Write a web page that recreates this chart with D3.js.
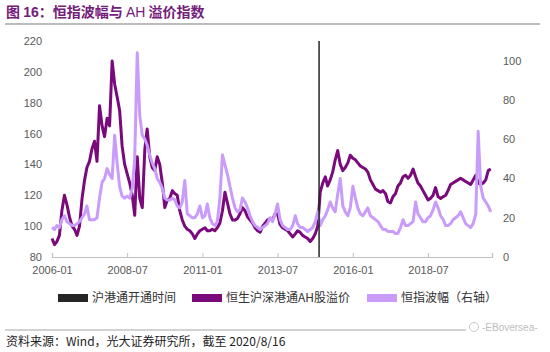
<!DOCTYPE html>
<html>
<head>
<meta charset="utf-8">
<script src="https://cdn.jsdelivr.net/npm/d3@7"></script>
<style>
  body { margin: 0; background: #fff; }
  svg { display: block; font-family: "Liberation Sans", Arial, "Noto Sans CJK SC", sans-serif; }
  .legend-text { font-size: 12px; fill: #333; font-family: "Noto Sans CJK SC", sans-serif; }
</style>
</head>
<body>
<script>
// Monthly values, 2006-01 .. 2020-08
var ahPremium = [
  92, 88, 90, 94, 110, 120, 114, 106, 100, 98, 94, 100,
  118, 130, 138, 142, 150, 155, 142, 178, 165, 158, 170, 165,
  207, 192, 184, 175, 152, 140, 134, 128, 120, 107, 145, 118,
  112, 150, 163, 145, 138, 136, 145, 140, 128, 112, 117, 118,
  123, 121, 120, 110, 104, 100, 98, 97, 95, 92, 95, 97,
  98, 99, 97, 97, 98, 97, 99, 102, 110, 122, 115, 108,
  104, 104, 105, 108, 112, 110, 106, 104, 102, 99, 97, 96,
  100, 102, 104, 105, 104, 108, 108, 101, 99, 98, 97, 95,
  93, 95, 97, 96, 94, 93, 92, 90, 92, 95, 100, 122,
  128, 132, 126, 130, 135, 143, 149, 140, 136, 138, 141, 146,
  144, 143, 141, 139, 138, 137, 135, 130, 127, 124, 123, 122,
  123, 121, 116, 115, 119, 121, 126, 128, 132, 133, 131, 133,
  137, 132, 128, 126, 123, 120, 117, 118, 120, 125, 119, 118,
  119, 120, 123, 127, 128, 129, 130, 131, 130, 129, 128, 127,
  130, 133, 128, 127, 128, 130, 136, 137
];

var hsiVol = [
  15, 14, 16, 15, 19, 21, 18, 17, 16, 16, 17, 18,
  20, 22, 26, 19, 19, 19, 20, 30, 38, 40, 45, 42,
  40, 62, 48, 36, 31, 30, 31, 30, 35, 50, 104, 72,
  62, 60, 57, 52, 48, 45, 40, 38, 35, 30, 29, 29,
  30, 29, 26, 25, 28, 39, 22, 21, 20, 20, 22, 26,
  20, 21, 27, 20, 17, 16, 18, 30, 52, 47, 42, 36,
  30, 25, 23, 24, 30, 28, 25, 21, 18, 16, 15, 14,
  15, 16, 17, 20, 18, 22, 27, 19, 16, 15, 14, 14,
  16, 21, 17, 15, 15, 14, 13, 14, 15, 18, 23, 16,
  19, 21, 24, 28, 25, 23, 32, 40, 26, 23, 21, 25,
  36, 30, 25, 22, 21, 23, 25, 21, 20, 19, 18, 16,
  14, 14, 13, 13, 13, 12, 12, 15, 19, 16, 16, 17,
  18, 28, 22, 20, 18, 18, 20, 21, 24, 28, 25, 21,
  19, 16, 16, 17, 19, 20, 21, 23, 20, 17, 16, 15,
  17, 22, 64, 36, 30, 28, 26, 23
];

var leftTicks = [80, 100, 120, 140, 160, 180, 200, 220];
var rightTicks = [0, 20, 40, 60, 80, 100];
var xTickLabels = ["2006-01", "2008-07", "2011-01", "2013-07", "2016-01", "2018-07"];
var openDate = "2014-11-17";
var endDate = "2020-08-16";
var legendNames = ["沪港通开通时间", "恒生沪深港通AH股溢价", "恒指波幅（右轴）"];

var w = 550;
var h = 352;
var plotLeft = 52, plotRight = 492, plotTop = 41, plotBottom = 257;

var parseMonth = d3.timeParse("%Y-%m");
var parseDay = d3.timeParse("%Y-%m-%d");

var months = d3.timeMonth.range(parseMonth("2006-01"), parseMonth("2020-09"));

var xScale = d3.scaleTime()
  .domain([parseMonth("2006-01"), parseDay(endDate)])
  .range([plotLeft, plotRight]);

var yLeft = d3.scaleLinear().domain([80, 220]).range([plotBottom, plotTop]);
var yRight = d3.scaleLinear().domain([0, 110]).range([plotBottom, plotTop]);

var svg = d3.select("body").append("svg").attr("width", w).attr("height", h);

// title
var title = svg.append("text")
  .attr("x", 6)
  .attr("y", 17)
  .attr("fill", "#73207a")
  .style("font-size", "14px")
  .style("font-weight", "bold")
  .style("font-family", "'Noto Sans CJK SC', sans-serif");
title.append("tspan").text("图 ");
title.append("tspan").text("16").style("font-family", "'Liberation Sans', Arial");
title.append("tspan").text("：恒指波幅与 ");
title.append("tspan").text("AH").style("font-family", "'Liberation Sans', Arial").style("font-weight", "normal");
title.append("tspan").text(" 溢价指数");

svg.append("line")
  .attr("x1", 5).attr("x2", 540)
  .attr("y1", 24).attr("y2", 24)
  .attr("stroke", "#a6a6a6")
  .attr("stroke-width", 1.5);

// axes
var xAxis = d3.axisBottom(xScale)
  .tickValues(xTickLabels.map(parseMonth))
  .tickFormat(d3.timeFormat("%Y-%m"))
  .tickSize(-4)
  .tickPadding(9);

var gx = svg.append("g")
  .attr("transform", "translate(0," + plotBottom + ")")
  .call(xAxis);
gx.select(".domain").attr("stroke", "#bfbfbf").attr("stroke-width", 1.2);
gx.selectAll(".tick line").attr("stroke", "#bfbfbf");

var gl = svg.append("g")
  .attr("transform", "translate(" + 42 + ",0)")
  .call(d3.axisLeft(yLeft).tickValues(leftTicks).tickSize(0).tickPadding(0));
gl.select(".domain").remove();

var gr = svg.append("g")
  .attr("transform", "translate(" + 503 + ",0)")
  .call(d3.axisRight(yRight).tickValues(rightTicks).tickSize(0).tickPadding(0));
gr.select(".domain").remove();

svg.selectAll(".tick text")
  .attr("fill", "#595959")
  .style("font-size", "11px")
  .style("font-family", "'Liberation Sans', Arial, sans-serif");

// lines
var ahLine = d3.line()
  .x(function (d, i) { return xScale(months[i]); })
  .y(function (d) { return yLeft(d); });

var volLine = d3.line()
  .x(function (d, i) { return xScale(months[i]); })
  .y(function (d) { return yRight(d); });

svg.append("path")
  .datum(ahPremium)
  .attr("fill", "none")
  .attr("stroke", "#7a0a7c")
  .attr("stroke-width", 3)
  .attr("stroke-linejoin", "round")
  .attr("d", ahLine);

svg.append("path")
  .datum(hsiVol)
  .attr("fill", "none")
  .attr("stroke", "#c99cfb")
  .attr("stroke-width", 3)
  .attr("stroke-linejoin", "round")
  .attr("d", volLine);

// opening date marker
svg.append("line")
  .attr("x1", xScale(parseDay(openDate))).attr("x2", xScale(parseDay(openDate)))
  .attr("y1", plotTop).attr("y2", plotBottom)
  .attr("stroke", "#262626")
  .attr("stroke-width", 1.5);

// legend
var legendColors = ["#262626", "#7a0a7c", "#c99cfb"];
var legendX = [58, 192, 367];
var legend = svg.append("g").selectAll("g")
  .data(legendNames)
  .enter()
  .append("g")
  .attr("transform", function (d, i) { return "translate(" + legendX[i] + ",294)"; });

legend.append("rect")
  .attr("width", 30)
  .attr("height", 8)
  .attr("fill", function (d, i) { return legendColors[i]; });

legend.append("text")
  .attr("class", "legend-text")
  .attr("x", 34)
  .attr("y", 4)
  .attr("dy", "0.35em")
  .text(function (d) { return d; });

// footer
svg.append("line")
  .attr("x1", 5).attr("x2", 540)
  .attr("y1", 330).attr("y2", 330)
  .attr("stroke", "#a6a6a6")
  .attr("stroke-width", 1.2);

var wm = svg.append("g").attr("transform", "translate(470,327)");
wm.append("rect").attr("x", -4).attr("y", -7).attr("width", 76).attr("height", 13).attr("fill", "#fff");
wm.append("circle").attr("cx", 4).attr("cy", 0).attr("r", 4.5).attr("fill", "none").attr("stroke", "#c8c8c8");
wm.append("text")
  .attr("x", 12).attr("y", 0).attr("dy", "0.35em")
  .attr("fill", "#bdbdbd")
  .style("font-size", "10px")
  .text("-EBoversea-");

svg.append("text")
  .attr("x", 6)
  .attr("y", 346)
  .attr("fill", "#222")
  .style("font-size", "12px")
  .style("font-family", "'Noto Sans CJK SC', sans-serif")
  .text("资料来源：Wind，光大证券研究所，截至 2020/8/16");
</script>
</body>
</html>
